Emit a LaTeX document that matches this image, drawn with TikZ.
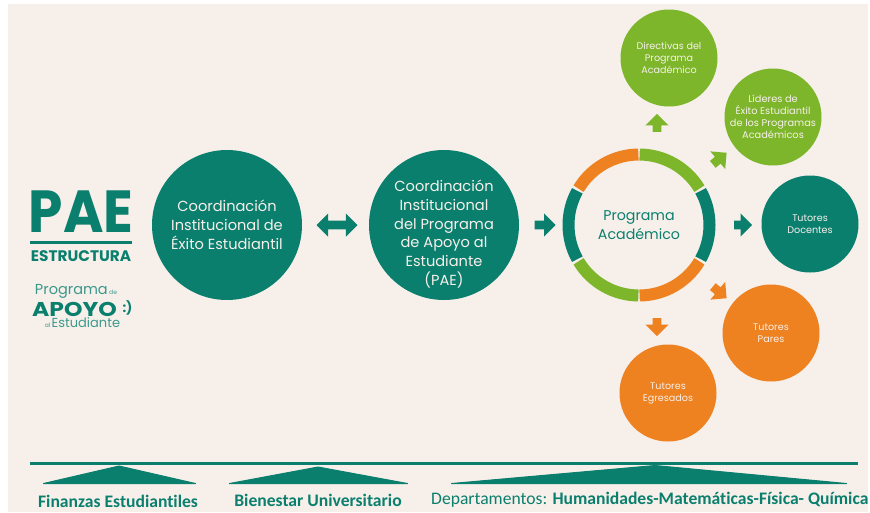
\documentclass[tikz,border=0pt]{standalone}
\usepackage{fontspec}
\setmainfont{Poppins}[Ligatures=NoCommon]
\newfontfamily\logofont{Poppins}
\newfontfamily\calfont{Carlito}[Ligatures=NoCommon]
\usetikzlibrary{shapes.arrows}
\definecolor{teal1}{HTML}{0B7F6E}
\definecolor{green1}{HTML}{7DB52B}
\definecolor{orange1}{HTML}{EE8120}
\definecolor{bg1}{HTML}{F7F0EA}
\newcommand{\shaft}{\rule{1pt}{8.5pt}}
\tikzset{
 bigc/.style={circle,fill=teal1,minimum size=150pt,inner sep=0pt,align=center,text=bg1,font=\fontsize{14.6}{18.7}\selectfont},
 smallc/.style={circle,minimum size=97pt,inner sep=0pt,align=center,text=bg1,font=\fontsize{9.6}{12}\selectfont},
 sarrow/.style={single arrow,minimum height=18pt,minimum width=15pt,single arrow tip angle=90,inner sep=0pt,fill=#1,text=#1},
 seg/.style={line width=12pt,color=#1},
 tri/.style={fill=teal1,draw=teal1,line width=1pt,line join=round},
 lab/.style={text=teal1,font=\calfont\fontsize{17.6}{18}\selectfont,anchor=base,inner sep=0pt},
 logotxt/.style={text=teal1,inner sep=0pt},
 logolight/.style={text=teal1!80,inner sep=0pt},
}
\begin{document}
\begin{tikzpicture}[x=1pt,y=-1pt]
\useasboundingbox (0,0) rectangle (870,512);
\fill[white] (0,0) rectangle (870,512);
\fill[bg1] (8,4) rectangle (868,512);
% logo
\node[logotxt,font=\logofont\bfseries\fontsize{55}{55}\selectfont] (pae) at (81,212) {\scalebox{1}[1.08]{PAE}};
\fill[teal1] (30,240.5) rectangle (132,244);
\node[logotxt,font=\logofont\bfseries\fontsize{15.3}{15}\selectfont] (estr) at (81,256.5) {ESTRUCTURA};
\node[logolight,font=\logofont\fontsize{14.5}{14}\selectfont,anchor=base east] (prog) at (108,294) {Programa};
\node[logolight,font=\logofont\fontsize{6}{6}\selectfont,anchor=base west] (de) at (109,294) {de};
\node[logotxt,font=\logofont\bfseries\fontsize{23.5}{23}\selectfont,anchor=base] (apoyo) at (74.5,316) {\scalebox{1}[.85]{APOYO}};
\node[logotxt,font=\logofont\bfseries\fontsize{13}{13}\selectfont] (smile) at (127.5,308) {:)};
\node[logolight,font=\logofont\fontsize{6}{6}\selectfont,anchor=base east] (al) at (50.5,327) {al};
\node[logolight,font=\logofont\fontsize{13}{13}\selectfont,anchor=base west] (est) at (51.5,327.5) {Estudiante};
% main circles
\node[bigc] (coord) at (227,225) {Coordinación\\Institucional de\\Éxito Estudiantil};
\node[bigc] (pap) at (444,225) {};
\node[bigc,minimum size=0pt,fill=none] (paptxt) at (444,234) {Coordinación\\Institucional\\del Programa\\de Apoyo al\\Estudiante\\(PAE)};
% ring
\foreach \a/\b/\c in {31/89.5/green1,-29/29/teal1,-89.5/-31/orange1,-149/-90.5/green1,151/209/teal1,90.5/149/orange1}
 \draw[seg=\c] (639,225) ++(\a:70.5pt) arc[start angle=\a,end angle=\b,radius=70.5pt];
\node[text=teal1,align=center,font=\fontsize{14.2}{19}\selectfont,inner sep=0pt] (prac) at (639,225) {Programa\\Académico};
% satellites
\node[smallc,fill=green1] (dir) at (669,58) {Directivas del\\Programa\\Académico};
\node[smallc,fill=green1,font=\fontsize{9.8}{12}\selectfont] (lid) at (773,117) {Líderes de\\Éxito Estudiantil\\de los Programas\\Académicos};
\node[smallc,fill=teal1] (doc) at (810,224) {Tutores\\Docentes};
\node[smallc,fill=orange1] (par) at (771,333) {Tutores\\Pares};
\node[smallc,fill=orange1] (egr) at (668,393) {Tutores\\Egresados};
% arrows
\node[double arrow,fill=teal1,text=teal1,minimum height=41pt,minimum width=17pt,double arrow tip angle=90,inner sep=0pt] (a0) at (337,225) {\shaft};
\node[sarrow=teal1,minimum height=21pt] (a1) at (543,225) {\shaft};
\node[sarrow=green1,rotate=90] (a2) at (657,125) {\shaft};
\node[sarrow=green1,rotate=40] (a3) at (718,160) {\shaft};
\node[sarrow=teal1] (a4) at (741,225) {\shaft};
\node[sarrow=orange1,rotate=-40] (a5) at (718,291) {\shaft};
\node[sarrow=orange1,rotate=-90] (a6) at (657,325) {\shaft};
% bottom
\fill[teal1] (30,462) rectangle (858,465);
\filldraw[tri] (43.5,483.5) -- (119,466) -- (195.5,483.5) -- cycle;
\filldraw[tri] (229.5,483.5) -- (318,467) -- (407.5,483.5) -- cycle;
\filldraw[tri] (451.5,483.5) -- (655,465.5) -- (846.5,483.5) -- cycle;
\node[lab] (fin) at (118,507) {\bfseries Finanzas Estudiantiles};
\node[lab] (bien) at (318,506) {\bfseries Bienestar Universitario};
\node[lab,anchor=base west] (dep) at (431,504) {Departamentos: \bfseries Humanidades-Matemáticas-Física- Química};
\end{tikzpicture}
\end{document}
